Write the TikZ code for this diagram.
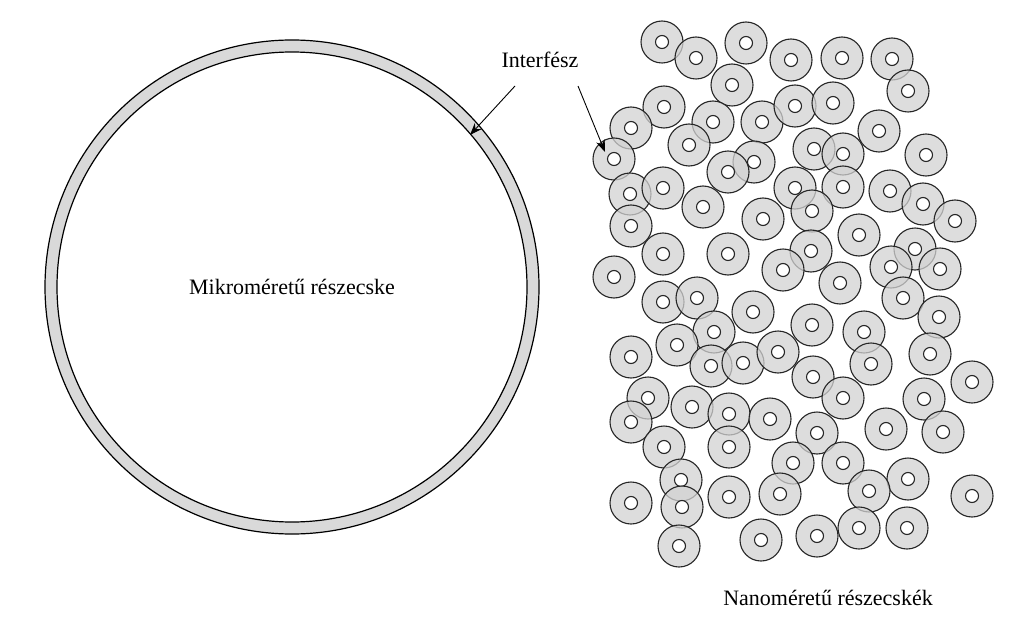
\documentclass[tikz,border=0pt]{standalone}
\usepackage{fontspec}
\setmainfont{Liberation Serif}
\usetikzlibrary{arrows.meta}
\begin{document}
\begin{tikzpicture}[x=1pt, y=-1pt, nano/.style = {draw=black!85, line width=1.1pt, fill=gray!35, fill opacity=0.75}, lbl/.style = {font=\fontsize{22}{26}\selectfont}]
\useasboundingbox (0,0) rectangle (1024,631);
\draw[line width=1.2pt, fill=gray!30] (292,287) circle (247);
\draw[line width=1.2pt, fill=white] (292,287) circle (235);
\foreach \x/\y in {662/42, 696/58, 746/43, 791/60, 842/58, 892/59, 908/91, 732/85, 664/107, 631/128, 713/122, 689/145, 762/122, 795/106, 833/103, 879/131, 614/159, 754/162, 728/172, 814/149, 843/154, 926/155, 630/194, 663/188, 703/207, 795/188, 843/187, 890/191, 923/204, 955/221, 812/211, 763/219, 631/226, 663/254, 728/254, 811/251, 859/235, 915/249, 891/267, 940/269, 783/270, 840/283, 614/277, 663/302, 697/298, 753/312, 812/325, 903/298, 939/317, 864/332, 714/332, 677/345, 631/357, 711/366, 743/363, 778/352, 813/377, 871/364, 930/354, 972/382, 843/398, 924/399, 648/398, 692/407, 729/414, 770/419, 631/422, 817/433, 886/429, 943/432, 664/447, 729/447, 793/463, 843/463, 681/480, 908/479, 869/491, 780/494, 729/497, 631/503, 682/507, 972/496, 679/546, 761/540, 817/536, 859/528, 907/528}
{
\draw[nano] (\x,\y) circle (21);
\draw[draw=black!85, line width=1.1pt, fill=white] (\x,\y) circle (6.5);
}
\node[lbl] (mikro) at (292,287) {Mikroméretű részecske};
\node[lbl] (interf) at (540,60) {Interfész};
\node[lbl] (nano) at (828,598) {Nanoméretű részecskék};
\coordinate (ring) at (470,135);
\coordinate (part) at (605,152);
\draw[-{Stealth[length=12pt,width=9pt]}, line width=0.9pt] (515,86) -- (ring);
\draw[-{Stealth[length=12pt,width=9pt]}, line width=0.9pt] (578,86) -- (part);
\end{tikzpicture}
\end{document}
